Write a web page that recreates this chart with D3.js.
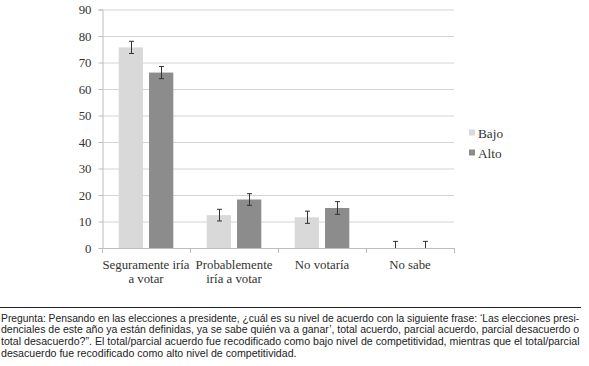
<!DOCTYPE html>
<html><head><meta charset="utf-8">
<script src="https://cdn.jsdelivr.net/npm/d3@7"></script>
<style>body{margin:0;background:#fff}svg{display:block}</style>
</head><body>
<script>
const categories = [["Seguramente iría","a votar"],["Probablemente","iría a votar"],["No votaría"],["No sabe"]];
const seriesNames = ["Bajo","Alto"];
const bajo = [75.7, 12.4, 11.6, 0];
const alto = [66.2, 18.3, 15.1, 0];
const bajoErr = [2.3, 2.2, 2.3, 2.5];
const altoErr = [2.3, 2.2, 2.4, 2.5];
const yTicks = [0,10,20,30,40,50,60,70,80,90];
const footer = [
 "Pregunta: Pensando en las elecciones a presidente, ¿cuál es su nivel de acuerdo con la siguiente frase: ‘Las elecciones presi-",
 "denciales de este año ya están definidas, ya se sabe quién va a ganar’, total acuerdo, parcial acuerdo, parcial desacuerdo o",
 "total desacuerdo?”. El total/parcial acuerdo fue recodificado como bajo nivel de competitividad, mientras que el total/parcial",
 "desacuerdo fue recodificado como alto nivel de competitividad."
];
const colors = ["#d9d9d9","#8c8c8c"];

const serif="'Liberation Serif','Times New Roman',serif";
const sans="'Liberation Sans',Arial,sans-serif";
const sSize=12.8;

const W=589,H=366;
const svg=d3.select("body").append("svg").attr("width",W).attr("height",H);
const x0=102,x1=454,yTop=9.5,yBot=248;
const x=d3.scaleBand().domain(d3.range(categories.length)).range([x0,x1]).paddingInner(0).paddingOuter(0);
const xs=d3.scaleBand().domain([0,1]).range([0,x.bandwidth()]).paddingInner(0.2).paddingOuter(0.55);
const y=d3.scaleLinear().domain([0,90]).range([yBot,yTop]);

// gridlines
svg.append("g").selectAll("line").data(yTicks.filter(d=>d>0)).join("line")
 .attr("x1",x0).attr("x2",x1).attr("y1",d=>y(d)+0.5).attr("y2",d=>y(d)+0.5)
 .attr("stroke","#d4d4d4").attr("stroke-width",1);

// y axis
const ya=svg.append("g").attr("transform",`translate(${x0+0.5},0)`)
 .call(d3.axisLeft(y).tickValues(yTicks).tickSize(4).tickPadding(7));
ya.attr("font-family",serif).attr("font-size",sSize);
ya.select(".domain").attr("stroke","#bdbdbd");
ya.selectAll(".tick line").attr("stroke","#bdbdbd");
ya.selectAll("text").attr("fill","#333");

// x axis
svg.append("line").attr("x1",x0).attr("x2",x1).attr("y1",yBot+0.5).attr("y2",yBot+0.5).attr("stroke","#bdbdbd");
svg.append("g").selectAll("line").data(d3.range(categories.length+1)).join("line")
 .attr("x1",d=>Math.round(x0+d*x.bandwidth())+0.5).attr("x2",d=>Math.round(x0+d*x.bandwidth())+0.5)
 .attr("y1",yBot).attr("y2",yBot+5).attr("stroke","#bdbdbd");

const series=[bajo,alto], errs=[bajoErr,altoErr];
series.forEach((vals,s)=>{
 const g=svg.append("g");
 g.selectAll("rect").data(vals).join("rect")
  .attr("x",(d,i)=>x(i)+xs(s)).attr("width",xs.bandwidth())
  .attr("y",d=>y(d)).attr("height",d=>yBot-y(d)).attr("fill",colors[s]);
 const eg=svg.append("g").attr("stroke","#333").attr("stroke-width",1);
 vals.forEach((v,i)=>{
  const cx=Math.round(x(i)+xs(s)+xs.bandwidth()/2)+0.5;
  const lo=Math.max(0,v-errs[s][i]), hi=v+errs[s][i];
  eg.append("line").attr("x1",cx).attr("x2",cx).attr("y1",y(hi)).attr("y2",y(lo));
  eg.append("line").attr("x1",cx-2.5).attr("x2",cx+2.5).attr("y1",y(hi)).attr("y2",y(hi));
  if(lo>0) eg.append("line").attr("x1",cx-2.5).attr("x2",cx+2.5).attr("y1",y(lo)).attr("y2",y(lo));
 });
});

// category labels
categories.forEach((lines,i)=>{
 const t=svg.append("text").attr("font-family",serif).attr("font-size",sSize).attr("fill","#333")
  .attr("text-anchor","middle");
 lines.forEach((ln,j)=>t.append("tspan").attr("x",x(i)+x.bandwidth()/2).attr("y",269+j*14).text(ln));
});

// legend
seriesNames.forEach((n,s)=>{
 const ly=133+s*20;
 svg.append("rect").attr("x",469).attr("y",ly-3.5).attr("width",6).attr("height",6).attr("fill",colors[s]);
 svg.append("text").attr("x",478).attr("y",ly+4.5).attr("font-family",serif).attr("font-size",13.3)
  .attr("fill","#333").text(n);
});

// footer (horizontally compressed to mimic the condensed typeface, justified)
svg.append("line").attr("x1",0).attr("x2",581).attr("y1",307.5).attr("y2",307.5).attr("stroke","#222").attr("stroke-width",1);
const footLen=[579,579,579,296];
footer.forEach((ln,i)=>{
 const t=svg.append("text").attr("x",0).attr("y",0)
  .attr("font-family",sans).attr("font-size",11).attr("fill","#222").text(ln);
 const nat=t.node().getComputedTextLength();
 t.attr("transform",`translate(1,${321.5+i*11.8}) scale(${footLen[i]/nat},1)`);
});
</script>
</body></html>
